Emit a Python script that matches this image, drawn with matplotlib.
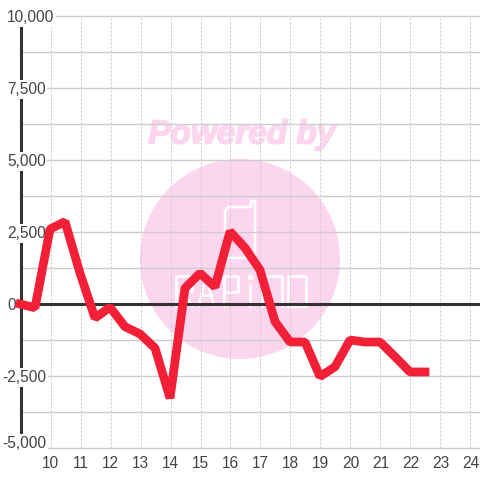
import matplotlib
matplotlib.use('Agg')
import matplotlib.pyplot as plt
import matplotlib.patheffects as pe
from matplotlib.patches import Circle

hours = [9, 9.5, 10, 10.5, 11, 11.5, 12, 12.5, 13, 13.5, 14, 14.5, 15, 15.5, 16, 16.5,
         17, 17.5, 18, 18.5, 19, 19.5, 20, 20.5, 21, 21.5, 22, 22.5]
values = [0, -130, 2600, 2860, 1070, -490, -110, -790, -1040, -1530, -3270, 550, 1070, 590,
          2520, 1950, 1180, -610, -1320, -1320, -2520, -2180, -1250, -1320, -1320, -1830,
          -2360, -2360]
y_major = [-5000, -2500, 0, 2500, 5000, 7500, 10000]
y_labels = ['-5,000', '-2,500', '0', '2,500', '5,000', '7,500', '10,000']
y_grid = [-5000, -3750, -2500, -1250, 0, 1250, 2500, 3750, 5000, 6250, 7500, 8750, 10000]
x_ticks = list(range(10, 25))

plt.rcParams['font.family'] = ['Liberation Sans', 'DejaVu Sans']
fig = plt.figure(figsize=(4.8, 4.8), dpi=100, facecolor='white')
W = 480.0
ax = fig.add_axes([20.0/W, (480-448)/W, 460/W, 432/W])
ax.set_xlim(9, 9 + 460/30)
ax.set_ylim(-5000, 10000)
ax.patch.set_visible(False)
for s in ax.spines.values():
    s.set_visible(False)

# watermark, in pixel-like figure coordinates
bg = fig.add_axes([0, 0, 1, 1], zorder=-1)
bg.set_xlim(0, 480); bg.set_ylim(480, 0); bg.axis('off')
PINK = '#fcd5ee'
bg.add_patch(Circle((240, 259), 100, fc=PINK, ec='none'))
bg.text(242, 135, 'Powered by', color=PINK, fontsize=24, fontweight='bold',
        fontstyle='italic', ha='center', va='center',
        path_effects=[pe.withStroke(linewidth=1.2, foreground=PINK)])
logo = [
    ([225, 225, 228, 251, 251, 255, 255, 252, 228, 225], [245, 211, 207, 207, 201, 201, 255, 258, 258, 255]),
    ([176, 176, 192, 192, 176], [306, 276, 276, 291, 291]),
    ([183, 192], [291, 306]),
    ([199, 206, 214], [306, 276, 306]),
    ([202, 211], [295, 295]),
    ([224, 224, 238, 238, 224], [306, 276, 276, 292, 292]),
    ([250, 250], [285, 306]),
    ([262, 262, 282, 282], [306, 276, 276, 306]),
    ([288, 288, 306, 306, 288], [306, 276, 276, 306, 306]),
]
for xs, ys in logo:
    bg.plot(xs, ys, color='white', lw=1.9, solid_joinstyle='round', solid_capstyle='round')
bg.plot([250], [277], marker='o', ms=3, color='white')

for v in y_grid:
    ax.axhline(v, color='#cccccc', lw=1.0, zorder=1, clip_on=False)
for x in x_ticks:
    ax.axvline(x + 0.5/30, color='#c8c8c8', lw=0.72, ls=(0, (2, 2)), zorder=1)
ax.axhline(0, color='#333333', lw=2.2, zorder=2)
ax.axvline(9 + 0.5/30, color='#333333', lw=2.2, zorder=2, clip_on=False)

ax.plot(hours, values, color='#f22037', lw=6.3, zorder=4, solid_joinstyle='bevel',
        solid_capstyle='projecting', clip_on=False)

ax.set_xticks([]); ax.set_yticks([])
for v, l in zip(y_major, y_labels):
    dy = 5 if v == min(y_major) else -1.5
    ax.annotate(l, xy=(7 if v >= 0 else 2, v), xycoords=(bg.transData, ax.transData),
                xytext=(0, dy), textcoords='offset pixels', ha='left', va='center',
                fontsize=11.2, color='#444444', zorder=3, annotation_clip=False,
                bbox=dict(fc='white', ec='none', pad=1.2))
for x in x_ticks:
    ax.annotate(str(x), (x, -5000), xytext=(0.5, -5.5), textcoords='offset points', ha='center', va='top',
                fontsize=11.2, color='#444444', annotation_clip=False)
fig.savefig('out.png', dpi=100)
